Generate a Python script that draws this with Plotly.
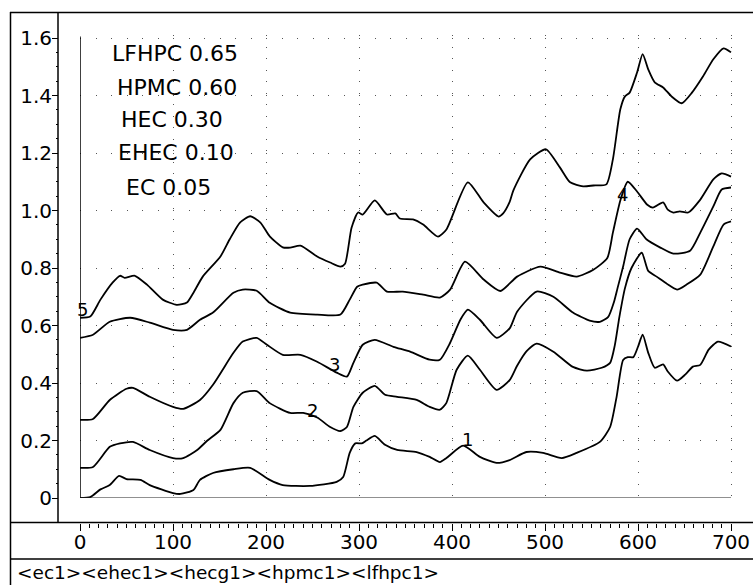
import plotly.graph_objects as go

W, H = 753, 585

# ---- data (wavelength vs absorbance-like values) ----
x_1 = [0, 11, 22, 32, 42, 50, 65, 75, 100, 108, 122, 129, 143, 165, 183, 204, 218, 247, 276, 283,
       290, 296, 303, 308, 317, 328, 341, 362, 376, 387, 394, 412, 430, 448, 462, 480, 498, 518,
       534, 559, 570, 577, 584, 589, 595, 600, 605, 611, 618, 627, 632, 642, 651, 659, 667, 676, 686, 700]
y_1 = [0.0, 0.003, 0.03, 0.045, 0.077, 0.066, 0.063, 0.045, 0.017, 0.014, 0.028, 0.063, 0.087, 0.10,
       0.105, 0.063, 0.045, 0.042, 0.056, 0.073, 0.157, 0.19, 0.19, 0.2, 0.216, 0.185, 0.167, 0.16,
       0.143, 0.125, 0.139, 0.182, 0.143, 0.122, 0.132, 0.16, 0.157, 0.139, 0.157, 0.195, 0.247,
       0.352, 0.48, 0.49, 0.49, 0.526, 0.568, 0.505, 0.453, 0.465, 0.44, 0.408, 0.43, 0.457, 0.463,
       0.516, 0.544, 0.527]

x_2 = [0, 14, 32, 43, 57, 75, 100, 111, 126, 137, 151, 165, 175, 190, 204, 226, 240, 255, 269, 280,
       287, 294, 304, 317, 328, 341, 362, 376, 387, 394, 405, 417, 430, 448, 462, 470, 480, 491, 509,
       530, 545, 561, 570, 575, 580, 586, 593, 604, 611, 620, 631, 642, 652, 667, 681, 692, 700]
y_2 = [0.105, 0.108, 0.178, 0.19, 0.195, 0.167, 0.139, 0.139, 0.167, 0.2, 0.237, 0.33, 0.366, 0.372,
       0.33, 0.296, 0.296, 0.28, 0.247, 0.233, 0.247, 0.317, 0.366, 0.39, 0.359, 0.352, 0.341, 0.317,
       0.307, 0.331, 0.446, 0.495, 0.446, 0.376, 0.41, 0.46, 0.51, 0.537, 0.509, 0.456, 0.443, 0.453,
       0.47, 0.53, 0.63, 0.73, 0.80, 0.853, 0.79, 0.77, 0.745, 0.725, 0.742, 0.777, 0.875, 0.951, 0.962]

x_3 = [0, 14, 32, 50, 57, 75, 100, 111, 129, 143, 165, 175, 190, 201, 218, 237, 255, 276, 287, 294,
       304, 317, 337, 355, 376, 387, 398, 409, 417, 430, 448, 462, 470, 491, 509, 530, 548, 559, 568,
       574, 578, 584, 591, 599, 609, 624, 638, 656, 667, 681, 690, 700]
y_3 = [0.272, 0.275, 0.341, 0.38, 0.383, 0.352, 0.317, 0.31, 0.341, 0.394, 0.505, 0.544, 0.557, 0.533,
       0.498, 0.498, 0.474, 0.436, 0.422, 0.47, 0.533, 0.55, 0.526, 0.509, 0.481, 0.481, 0.54, 0.62,
       0.655, 0.62, 0.557, 0.59, 0.648, 0.718, 0.70, 0.645, 0.617, 0.613, 0.63, 0.68, 0.73, 0.805, 0.9,
       0.937, 0.9, 0.871, 0.85, 0.86, 0.923, 1.014, 1.073, 1.08]

x_4 = [0, 14, 32, 54, 75, 100, 115, 129, 143, 165, 175, 190, 204, 226, 255, 280, 290, 298, 304, 319,
       330, 347, 369, 387, 398, 414, 434, 452, 470, 495, 516, 534, 552, 567, 573, 581, 589, 599, 610,
       616, 627, 632, 638, 645, 654, 667, 681, 690, 700]
y_4 = [0.557, 0.568, 0.613, 0.627, 0.61, 0.585, 0.585, 0.62, 0.645, 0.714, 0.725, 0.721, 0.679, 0.645,
       0.638, 0.638, 0.69, 0.735, 0.742, 0.749, 0.718, 0.718, 0.707, 0.697, 0.725, 0.822, 0.76, 0.72,
       0.77, 0.805, 0.784, 0.77, 0.794, 0.835, 0.923, 1.035, 1.10, 1.066, 1.02, 1.01, 1.028, 1.003,
       0.993, 0.997, 0.993, 1.038, 1.108, 1.129, 1.118]

x_5 = [0, 11, 22, 35, 43, 48, 59, 72, 89, 104, 115, 122, 132, 151, 161, 172, 183, 194, 204, 218, 226,
       237, 255, 269, 280, 285, 292, 299, 304, 317, 330, 339, 344, 358, 369, 385, 394, 417, 434, 450,
       455, 462, 466, 484, 501, 516, 527, 541, 552, 566, 573, 581, 586, 591, 599, 605, 611, 618, 627,
       636, 647, 658, 670, 681, 692, 700]
y_5 = [0.627, 0.631, 0.69, 0.749, 0.773, 0.766, 0.773, 0.742, 0.69, 0.672, 0.68, 0.714, 0.77, 0.84,
       0.9, 0.958, 0.98, 0.958, 0.91, 0.872, 0.871, 0.878, 0.84, 0.819, 0.805, 0.815, 0.94, 0.993,
       0.986, 1.035, 0.986, 0.99, 0.972, 0.969, 0.951, 0.909, 0.934, 1.098, 1.028, 0.979, 0.99, 1.03,
       1.07, 1.178, 1.213, 1.15, 1.098, 1.084, 1.087, 1.091, 1.178, 1.352, 1.397, 1.41, 1.48, 1.544,
       1.491, 1.446, 1.428, 1.397, 1.373, 1.41, 1.467, 1.526, 1.564, 1.55]

series = [(x_1, y_1), (x_2, y_2), (x_3, y_3), (x_4, y_4), (x_5, y_5)]

x_ticks = [0, 100, 200, 300, 400, 500, 600, 700]
y_ticks = [0, 0.2, 0.4, 0.6, 0.8, 1.0, 1.2, 1.4, 1.6]
y_ticktext = ["0", "0.2", "0.4", "0.6", "0.8", "1.0", "1.2", "1.4", "1.6"]

legend_lines = ["LFHPC 0.65", "HPMC 0.60", "HEC 0.30", "EHEC 0.10", "EC 0.05"]
curve_labels = ["1", "2", "3", "4", "5"]
curve_label_x = [417, 250, 274, 583, 3]
curve_label_y = [0.202, 0.306, 0.463, 1.054, 0.654]
footer = "&lt;ec1&gt;&lt;ehec1&gt;&lt;hecg1&gt;&lt;hpmc1&gt;&lt;lfhpc1&gt;"

FONT = "DejaVu Sans, Liberation Sans, Arial, sans-serif"

def px(xp):
    return xp / W

def py(yp):
    return 1 - yp / H

X_RANGE = [0, 702]
Y_RANGE = [0, 1.61]
PX_PER_X = 0.93
PX_PER_Y = 287.5

fig = go.Figure()
for xs, ys in series:
    fig.add_trace(go.Scatter(
        x=xs, y=ys, mode="lines",
        line=dict(color="black", width=1.8, shape="spline", smoothing=0.6),
        showlegend=False, hoverinfo="skip"))

fig.update_layout(
    template="none",
    width=W, height=H,
    margin=dict(l=0, r=0, t=0, b=0, pad=0),
    paper_bgcolor="white", plot_bgcolor="white",
    font=dict(family=FONT, color="black", size=20),
    showlegend=False,
    xaxis=dict(
        automargin=False,
        domain=[px(80), px(80 + X_RANGE[1] * PX_PER_X)],
        range=X_RANGE, anchor="free", position=py(522.5), side="bottom",
        tickmode="array", tickvals=x_ticks, ticks="outside", ticklen=7,
        tickwidth=1, tickcolor="black", ticklabelstandoff=-6,
        minor=dict(ticks="outside", ticklen=4, dtick=10, tick0=0,
                   tickcolor="black", showgrid=False),
        showgrid=True, gridcolor="#555", gridwidth=1, griddash="1px,10.5px",
        zeroline=False, showline=False,
        tickfont=dict(size=20, family=FONT, color="black"),
    ),
    yaxis=dict(
        automargin=False,
        domain=[py(498), py(498 - Y_RANGE[1] * PX_PER_Y)],
        range=Y_RANGE, anchor="free", position=px(58), side="left",
        tickmode="array", tickvals=y_ticks, ticktext=y_ticktext,
        ticks="outside", ticklen=6, tickwidth=1, tickcolor="black",
        ticklabelstandoff=-4,
        minor=dict(ticks="outside", ticklen=2, dtick=0.05, tick0=0,
                   tickcolor="black", showgrid=False),
        showgrid=True, gridcolor="#555", gridwidth=1, griddash="1px,14.5px",
        zeroline=False, showline=False,
        tickfont=dict(size=20, family=FONT, color="black"),
    ),
)

shapes = []
line_k = dict(color="black", width=1.5)
# outer frame pieces
shapes.append(dict(type="line", xref="paper", yref="paper", x0=px(10.5), x1=px(10.5), y0=py(12), y1=py(585), line=line_k))
shapes.append(dict(type="line", xref="paper", yref="paper", x0=px(10), x1=px(753), y0=py(12.5), y1=py(12.5), line=line_k))
shapes.append(dict(type="line", xref="paper", yref="paper", x0=px(58), x1=px(58), y0=py(12), y1=py(522.5), line=line_k))
shapes.append(dict(type="line", xref="paper", yref="paper", x0=px(10), x1=px(753), y0=py(522.5), y1=py(522.5), line=line_k))
shapes.append(dict(type="line", xref="paper", yref="paper", x0=px(10), x1=px(753), y0=py(559), y1=py(559), line=line_k))
# data frame lines
shapes.append(dict(type="line", xref="x", yref="y", x0=0, x1=0, y0=0, y1=1.605, line=dict(color="black", width=1.5)))
shapes.append(dict(type="line", xref="x", yref="y", x0=0, x1=700, y0=0, y1=0, line=dict(color="#222", width=1.2)))
fig.update_layout(shapes=shapes)

ann = []
leg_x = [110, 115, 119, 116, 124]
leg_y = [53, 87, 120, 153, 188]
for t, lx, ly in zip(legend_lines, leg_x, leg_y):
    ann.append(dict(text=t, xref="paper", yref="paper", x=px(lx), y=py(ly),
                    xanchor="left", yanchor="middle", showarrow=False,
                    font=dict(size=22, family=FONT, color="black")))
for t, cx, cy in zip(curve_labels, curve_label_x, curve_label_y):
    ann.append(dict(text=t, xref="x", yref="y", x=cx, y=cy,
                    xanchor="center", yanchor="middle", showarrow=False,
                    font=dict(size=18, family=FONT, color="black")))
ann.append(dict(text=footer, xref="paper", yref="paper", x=px(15), y=py(572),
                xanchor="left", yanchor="middle", showarrow=False,
                font=dict(size=18.5, family=FONT, color="black")))
fig.update_layout(annotations=ann)

post = ("document.documentElement.style.margin='0';"
        "document.body.style.margin='0';document.body.style.padding='0';"
        "document.documentElement.style.overflow='hidden';document.body.style.overflow='hidden';")
fig.write_html("out.html", post_script=post, config={"displayModeBar": False})
